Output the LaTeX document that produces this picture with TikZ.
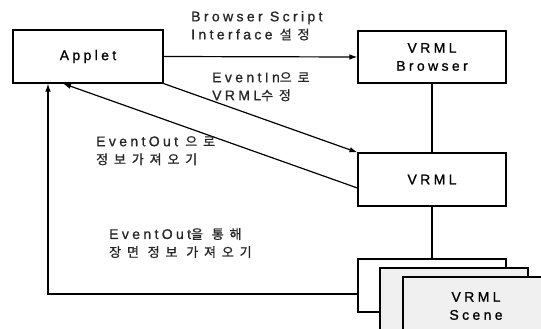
\documentclass[tikz,border=0pt]{standalone}
\usepackage{fontspec}
\setmainfont[LetterSpace=24,FakeBold=1]{Liberation Sans}
\newfontfamily\kr[LetterSpace=45,FakeBold=1]{Noto Sans CJK KR}
\usetikzlibrary{arrows.meta,calc}
\newcommand{\ko}[1]{{\kr\fontsize{13}{18}\selectfont #1}}
\tikzset{
  boxnode/.style={draw, line width=1.1pt, fill=white, inner sep=0pt,
    minimum width=148pt, minimum height=53pt, align=center,
    font=\fontsize{14}{18}\selectfont},
  stackbox/.style={boxnode, fill=gray!12},
  lbl/.style={inner sep=0pt, anchor=north west, align=left,
    font=\fontsize{14}{18}\selectfont, text=black!85},
  link/.style={line width=1.1pt},
  flow/.style={line width=1.2pt, -{Latex[length=8pt,width=5.5pt]}},
}
\begin{document}
\begin{tikzpicture}[x=1pt,y=-1pt]
  \useasboundingbox (0,0) rectangle (541,329);
  \clip (0,0) rectangle (541,329);

  % main boxes
  \node[boxnode, minimum width=150pt] (applet) at (88,56.5) {Applet};
  \node[boxnode, minimum height=52pt] (browser) at (432,57) {VRML\\Browser};
  \node[boxnode] (vrml) at (432,179.5) {VRML};

  % stacked scene boxes
  \node[boxnode] (scene1) at (432,285.5) {};
  \node[stackbox, minimum height=80pt] (scene2) at (454,308) {};
  \node[stackbox, minimum width=146pt, minimum height=80pt] (scene3) at (476,317) {};
  \node[align=center, inner sep=0pt, font=\fontsize{14}{18}\selectfont] (scenetxt) at (476,306) {VRML\\Scene};

  % vertical links
  \draw[link] (browser.south) -- (vrml.north);
  \draw[link] (vrml.south) -- (scene1.north);

  % arrows
  \draw[flow] (applet.east) -- (browser.west);
  \draw[flow] (applet.south east) -- (vrml.north west);
  \draw[flow] ([yshift=-8.5pt]vrml.west) -- ([xshift=-25pt]applet.south);
  \coordinate (backin) at ([xshift=-40pt]applet.south);
  \draw[flow] ([yshift=-8.5pt]scene1.west) -| (backin);

  % labels
  \node[lbl] (l1) at (191,11) {Browser Script\\Interface \ko{설정}};
  \node[lbl] (l2) at (212,72) {EventIn\ko{으로}\\VRML\ko{수정}};
  \node[lbl] (l3) at (96,136) {EventOut \ko{으로}\\\ko{정보가져오기}};
  \node[lbl] (l4) at (109,228) {EventOut\ko{을 통해}\\\ko{장면 정보 가져오기}};
\end{tikzpicture}
\end{document}
